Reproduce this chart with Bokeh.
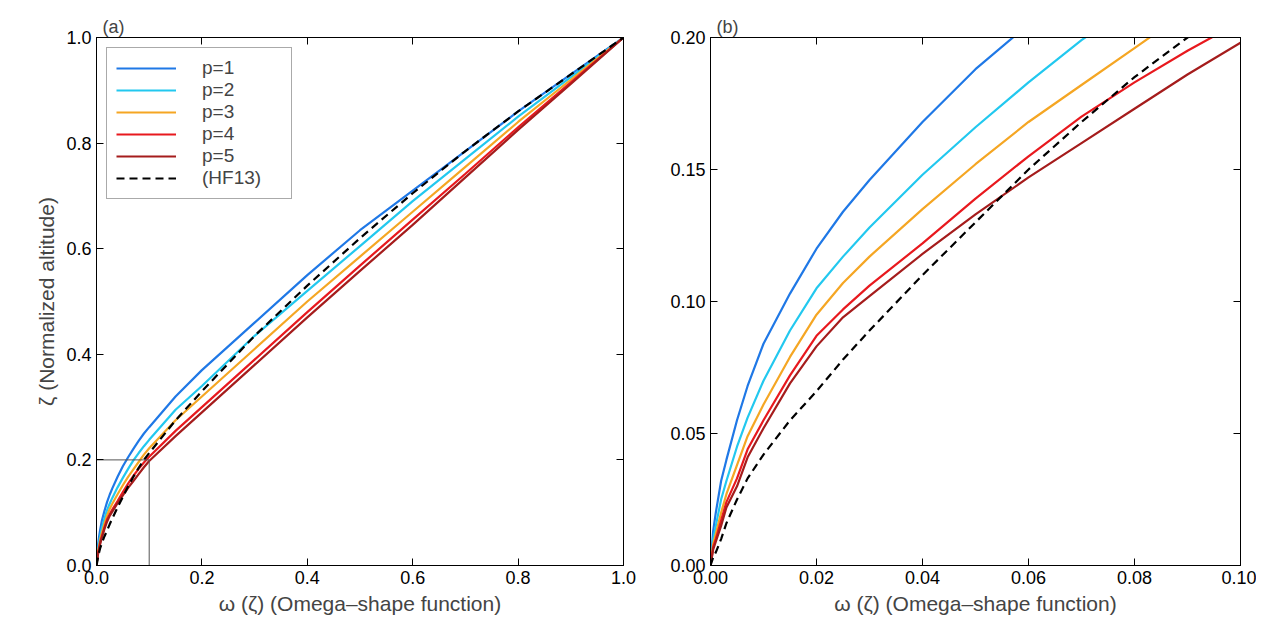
from bokeh.layouts import row
from bokeh.plotting import figure
from bokeh.models import LinearAxis, Legend, LegendItem, Range1d, PrintfTickFormatter
from bokeh.embed import file_html
from bokeh.resources import INLINE

omega = [0, 0.0005, 0.001, 0.002, 0.003, 0.005, 0.007, 0.01, 0.015, 0.02, 0.025, 0.03, 0.04,
         0.05, 0.06, 0.07, 0.08, 0.09, 0.1,
         0.15, 0.2, 0.3, 0.4, 0.5, 0.6, 0.7, 0.8, 0.9, 1.0]
zeta_p1 = [0, .013, .02, .032, .04, .055, .068, .084, .103, .12, .134, .146, .168,
           .188, .205, .221, .236, .25, .262,
           .32, .37, .46, .55, .635, .71, .785, .86, .93, 1]
zeta_p2 = [0, .01, .015, .025, .032, .045, .056, .07, .089, .105, .117, .128, .148,
           .166, .183, .199, .213, .226, .238,
           .295, .34, .435, .52, .605, .69, .77, .85, .925, 1]
zeta_p3 = [0, .008, .012, .02, .027, .038, .049, .061, .079, .095, .107, .117, .135,
           .152, .168, .182, .196, .21, .222,
           .275, .32, .41, .50, .585, .67, .755, .84, .92, 1]
zeta_p4 = [0, .007, .01, .017, .024, .033, .044, .055, .072, .087, .097, .106, .122,
           .139, .155, .17, .183, .195, .206,
           .255, .30, .39, .48, .568, .655, .742, .83, .915, 1]
zeta_p5 = [0, .006, .009, .015, .022, .03, .041, .052, .069, .083, .094, .102, .118,
           .133, .147, .16, .173, .186, .198,
           .245, .29, .38, .47, .558, .645, .735, .825, .912, 1]
zeta_hf13 = [0, .003, .005, .01, .016, .025, .033, .042, .055, .066, .078, .089, .11,
             .13, .15, .168, .185, .2, .213,
             .275, .33, .435, .53, .62, .705, .785, .86, .93, 1]

series = [("p=1", zeta_p1, "#1f78e6", None),
          ("p=2", zeta_p2, "#22c8ef", None),
          ("p=3", zeta_p3, "#f5a623", None),
          ("p=4", zeta_p4, "#e8191e", None),
          ("p=5", zeta_p5, "#a51c1c", None),
          ("(HF13)", zeta_hf13, "black", "8 5")]

FONT = "Liberation Sans"


def style(p, xticks, yticks, xfmt, yfmt):
    for ax in [p.xaxis[0], p.yaxis[0]]:
        ax.major_label_text_font = FONT
        ax.major_label_text_font_size = "18px"
        ax.major_label_text_color = "black"
        ax.axis_label_text_font = FONT
        ax.axis_label_text_font_size = "21px"
        ax.axis_label_text_font_style = "normal"
        ax.major_tick_in = 7
        ax.major_tick_out = 0
        ax.minor_tick_line_color = None
    p.xaxis[0].ticker = xticks
    p.yaxis[0].ticker = yticks
    p.xaxis[0].formatter = PrintfTickFormatter(format=xfmt)
    p.yaxis[0].formatter = PrintfTickFormatter(format=yfmt)
    for side, tk in [("above", xticks), ("right", yticks)]:
        a = LinearAxis(ticker=tk, major_label_text_font_size="0px",
                       major_tick_in=7, major_tick_out=0, minor_tick_line_color=None)
        p.add_layout(a, side)
    p.xgrid.visible = False
    p.ygrid.visible = False
    p.outline_line_color = "black"
    p.title.text_font = FONT
    p.title.text_font_size = "18px"
    p.title.text_font_style = "normal"
    p.title.offset = 6
    p.title.standoff = 2


pa = figure(width=647, height=623, output_backend="svg", toolbar_location=None, title="(a)",
            x_range=Range1d(0, 1), y_range=Range1d(0, 1),
            min_border_left=96, min_border_right=24, min_border_top=37, min_border_bottom=58)
pa.xaxis.axis_label = "ω (ζ) (Omega–shape function)"
pa.yaxis.axis_label = "ζ (Normalized altitude)"
style(pa, [0, 0.2, 0.4, 0.6, 0.8, 1.0], [0, 0.2, 0.4, 0.6, 0.8, 1.0], "%.1f", "%.1f")
items = []
for name, z, c, dash in series:
    r = pa.line(omega, z, line_color=c, line_width=2.2, line_dash=dash or "solid")
    items.append(LegendItem(label=name, renderers=[r]))
pa.line([0, 0.1, 0.1], [0.2, 0.2, 0], line_color="#555555", line_width=1)
leg = Legend(items=items, location="top_left", label_text_font=FONT,
             label_text_font_size="19px", glyph_width=60, label_standoff=26,
             border_line_color="#555555", spacing=0, padding=9, margin=10,
             label_width=80)
pa.add_layout(leg)

pb = figure(width=609, height=623, output_backend="svg", toolbar_location=None, title="(b)",
            x_range=Range1d(0, 0.1), y_range=Range1d(0, 0.2),
            min_border_left=63, min_border_right=16, min_border_top=37, min_border_bottom=58)
pb.xaxis.axis_label = "ω (ζ) (Omega–shape function)"
style(pb, [0, 0.02, 0.04, 0.06, 0.08, 0.1], [0, 0.05, 0.1, 0.15, 0.2], "%.2f", "%.2f")
for name, z, c, dash in series:
    pb.line(omega, z, line_color=c, line_width=2.2, line_dash=dash or "solid")

open("out.html", "w").write(file_html(row(pa, pb), INLINE))
